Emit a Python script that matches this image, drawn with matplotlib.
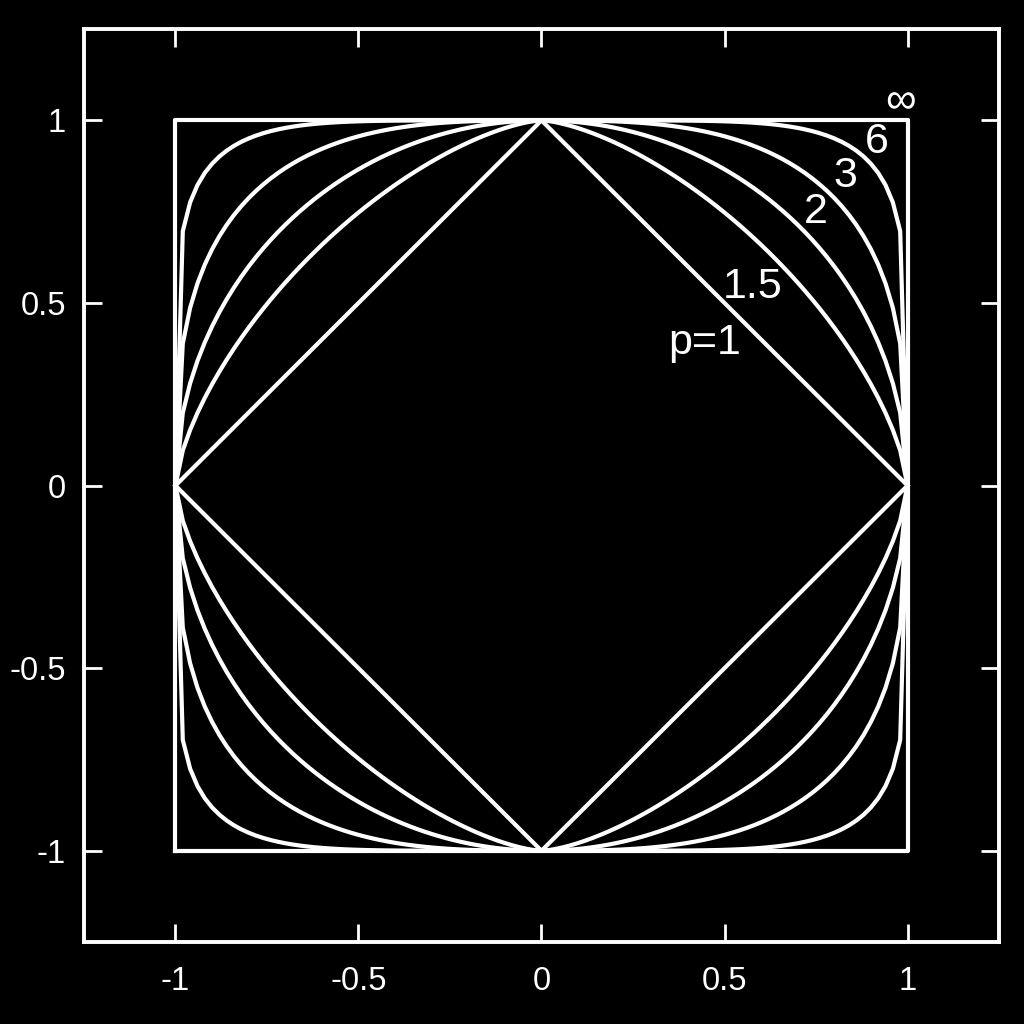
import matplotlib.pyplot as plt
import numpy as np

plt.rcParams['font.family'] = ['Liberation Sans', 'DejaVu Sans']

p_values = [1, 1.5, 2, 3, 6]
labels = ['p=1', '1.5', '2', '3', '6', '\u221e']
label_x = [0.445, 0.577, 0.75, 0.83, 0.915, 0.98]
label_y = [0.39, 0.544, 0.749, 0.847, 0.94, 1.05]
ticks = [-1, -0.5, 0, 0.5, 1]
tick_labels = ['-1', '-0.5', '0', '0.5', '1']

fig = plt.figure(figsize=(10.24, 10.24), dpi=100, facecolor='black')
ax = fig.add_axes([0.082, 0.080, 0.8936, 0.8916], facecolor='black')

x = np.linspace(-1, 1, 101)
for p in p_values:
    y = (1 - np.abs(x) ** p) ** (1.0 / p)
    ax.plot(x, y, color='white', lw=3)
    ax.plot(x, -y, color='white', lw=3)

# p = infinity: the square
ax.plot([-1, 1, 1, -1, -1], [-1, -1, 1, 1, -1], color='white', lw=3)

for t, lx, ly in zip(labels, label_x, label_y):
    ax.text(lx, ly, t, color='white', fontsize=31, ha='center', va='center')

ax.set_xlim(-1.25, 1.25)
ax.set_ylim(-1.25, 1.25)
ax.set_xticks(ticks)
ax.set_xticklabels(tick_labels)
ax.set_yticks(ticks)
ax.set_yticklabels(tick_labels)
ax.tick_params(direction='in', length=13, width=2, colors='white', labelsize=23.5,
               top=True, right=True)
ax.tick_params(axis='x', pad=17)
ax.tick_params(axis='y', pad=13)
for s in ax.spines.values():
    s.set_color('white')
    s.set_linewidth(2.8)

fig.savefig('out.png', dpi=100, facecolor='black')
